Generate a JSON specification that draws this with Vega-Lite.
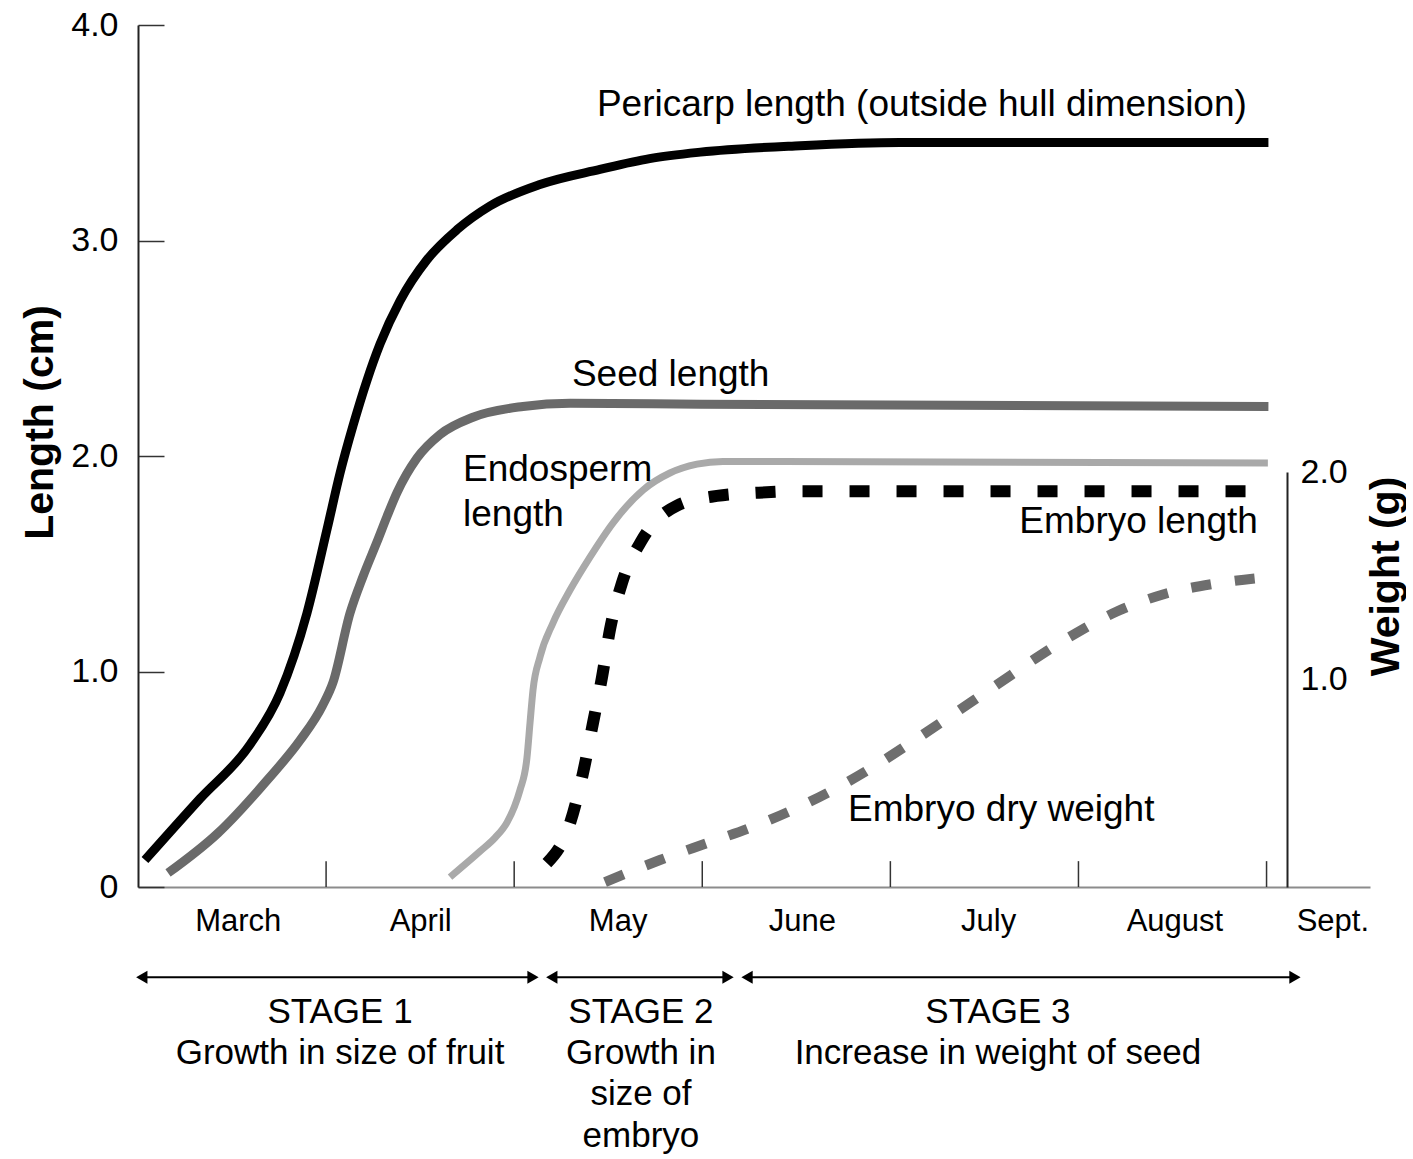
{
  "$schema": "https://vega.github.io/schema/vega-lite/v6.json",
  "padding": {"left": 19, "top": 8, "right": 0, "bottom": 0},
  "bounds": "flush",
  "spacing": 78,
  "config": {"font": "Liberation Sans", "view": {"stroke": null}},
  "datasets": {
    "curves": [
      {"s": "Pericarp", "x": 0.037, "y": 0.125},
      {"s": "Pericarp", "x": 0.33, "y": 0.41},
      {"s": "Pericarp", "x": 0.595, "y": 0.66},
      {"s": "Pericarp", "x": 0.755, "y": 0.9},
      {"s": "Pericarp", "x": 0.898, "y": 1.27},
      {"s": "Pericarp", "x": 1.005, "y": 1.66},
      {"s": "Pericarp", "x": 1.074, "y": 1.92},
      {"s": "Pericarp", "x": 1.143, "y": 2.14},
      {"s": "Pericarp", "x": 1.217, "y": 2.35},
      {"s": "Pericarp", "x": 1.287, "y": 2.52},
      {"s": "Pericarp", "x": 1.393, "y": 2.72},
      {"s": "Pericarp", "x": 1.536, "y": 2.91},
      {"s": "Pericarp", "x": 1.696, "y": 3.05},
      {"s": "Pericarp", "x": 1.871, "y": 3.16},
      {"s": "Pericarp", "x": 2.137, "y": 3.26},
      {"s": "Pericarp", "x": 2.456, "y": 3.33},
      {"s": "Pericarp", "x": 2.72, "y": 3.38},
      {"s": "Pericarp", "x": 2.99, "y": 3.41},
      {"s": "Pericarp", "x": 3.52, "y": 3.44},
      {"s": "Pericarp", "x": 4.05, "y": 3.455},
      {"s": "Pericarp", "x": 6.01, "y": 3.455},
      {"s": "Seed", "x": 0.16, "y": 0.065},
      {"s": "Seed", "x": 0.425, "y": 0.25},
      {"s": "Seed", "x": 0.691, "y": 0.5},
      {"s": "Seed", "x": 0.861, "y": 0.68},
      {"s": "Seed", "x": 0.98, "y": 0.84},
      {"s": "Seed", "x": 1.037, "y": 0.95},
      {"s": "Seed", "x": 1.127, "y": 1.27},
      {"s": "Seed", "x": 1.196, "y": 1.44},
      {"s": "Seed", "x": 1.27, "y": 1.6},
      {"s": "Seed", "x": 1.324, "y": 1.72},
      {"s": "Seed", "x": 1.377, "y": 1.83},
      {"s": "Seed", "x": 1.483, "y": 1.99},
      {"s": "Seed", "x": 1.606, "y": 2.1},
      {"s": "Seed", "x": 1.781, "y": 2.18},
      {"s": "Seed", "x": 2.047, "y": 2.23},
      {"s": "Seed", "x": 2.297, "y": 2.245},
      {"s": "Seed", "x": 2.988, "y": 2.24},
      {"s": "Seed", "x": 6.01, "y": 2.23},
      {"s": "Endosperm", "x": 1.659, "y": 0.046},
      {"s": "Endosperm", "x": 1.818, "y": 0.165},
      {"s": "Endosperm", "x": 1.9, "y": 0.23},
      {"s": "Endosperm", "x": 1.962, "y": 0.3},
      {"s": "Endosperm", "x": 2.0, "y": 0.37},
      {"s": "Endosperm", "x": 2.031, "y": 0.45},
      {"s": "Endosperm", "x": 2.068, "y": 0.6},
      {"s": "Endosperm", "x": 2.084, "y": 0.76},
      {"s": "Endosperm", "x": 2.1, "y": 0.914},
      {"s": "Endosperm", "x": 2.137, "y": 1.067},
      {"s": "Endosperm", "x": 2.206, "y": 1.225},
      {"s": "Endosperm", "x": 2.297, "y": 1.378},
      {"s": "Endosperm", "x": 2.403, "y": 1.531},
      {"s": "Endosperm", "x": 2.525, "y": 1.689},
      {"s": "Endosperm", "x": 2.685, "y": 1.842},
      {"s": "Endosperm", "x": 2.828, "y": 1.921},
      {"s": "Endosperm", "x": 2.972, "y": 1.962},
      {"s": "Endosperm", "x": 3.11, "y": 1.975},
      {"s": "Endosperm", "x": 6.007, "y": 1.967},
      {"s": "EmbryoLen", "x": 2.174, "y": 0.111},
      {"s": "EmbryoLen", "x": 2.297, "y": 0.297},
      {"s": "EmbryoLen", "x": 2.366, "y": 0.529},
      {"s": "EmbryoLen", "x": 2.419, "y": 0.761},
      {"s": "EmbryoLen", "x": 2.467, "y": 0.974},
      {"s": "EmbryoLen", "x": 2.509, "y": 1.193},
      {"s": "EmbryoLen", "x": 2.573, "y": 1.411},
      {"s": "EmbryoLen", "x": 2.679, "y": 1.61},
      {"s": "EmbryoLen", "x": 2.866, "y": 1.77},
      {"s": "EmbryoLen", "x": 3.078, "y": 1.815},
      {"s": "EmbryoLen", "x": 3.3, "y": 1.83},
      {"s": "EmbryoLen", "x": 3.519, "y": 1.836},
      {"s": "EmbryoLen", "x": 5.976, "y": 1.836},
      {"s": "EmbryoWt", "x": 2.483, "y": 0.024},
      {"s": "EmbryoWt", "x": 2.775, "y": 0.13},
      {"s": "EmbryoWt", "x": 3.004, "y": 0.205},
      {"s": "EmbryoWt", "x": 3.254, "y": 0.285},
      {"s": "EmbryoWt", "x": 3.477, "y": 0.37},
      {"s": "EmbryoWt", "x": 3.7, "y": 0.47},
      {"s": "EmbryoWt", "x": 3.929, "y": 0.59},
      {"s": "EmbryoWt", "x": 4.141, "y": 0.715},
      {"s": "EmbryoWt", "x": 4.354, "y": 0.845},
      {"s": "EmbryoWt", "x": 4.567, "y": 0.975},
      {"s": "EmbryoWt", "x": 4.769, "y": 1.1},
      {"s": "EmbryoWt", "x": 4.981, "y": 1.22},
      {"s": "EmbryoWt", "x": 5.21, "y": 1.33},
      {"s": "EmbryoWt", "x": 5.449, "y": 1.41},
      {"s": "EmbryoWt", "x": 5.71, "y": 1.46},
      {"s": "EmbryoWt", "x": 6.018, "y": 1.494}
    ],
    "monthEnds": [{"x": 1}, {"x": 2}, {"x": 3}, {"x": 4}, {"x": 5}, {"x": 6}],
    "labelsL": [
      {"t": "Pericarp length (outside hull dimension)", "x": 2.44, "y": 3.63},
      {"t": "Seed length", "x": 2.307, "y": 2.376},
      {"t": "Endosperm", "x": 1.728, "y": 1.935},
      {"t": "length", "x": 1.728, "y": 1.726},
      {"t": "Embryo dry weight", "x": 3.775, "y": 0.357}
    ],
    "labelsR": [
      {"t": "Embryo length", "x": 5.954, "y": 1.694}
    ],
    "stages": [
      {"stage": "1", "start": 0.02, "end": 2.1},
      {"stage": "2", "start": 2.2, "end": 3.137},
      {"stage": "3", "start": 3.238, "end": 6.151}
    ],
    "stageText": [
      {"x": 1.074, "line": 1, "t": "STAGE 1"},
      {"x": 1.074, "line": 2, "t": "Growth in size of fruit"},
      {"x": 2.674, "line": 1, "t": "STAGE 2"},
      {"x": 2.674, "line": 2, "t": "Growth in"},
      {"x": 2.674, "line": 3, "t": "size of"},
      {"x": 2.674, "line": 4, "t": "embryo"},
      {"x": 4.572, "line": 1, "t": "STAGE 3"},
      {"x": 4.572, "line": 2, "t": "Increase in weight of seed"}
    ]
  },
  "vconcat": [
    {
      "width": 1232,
      "height": 862,
      "layer": [
        {
          "layer": [
            {
              "data": {"name": "curves"},
              "transform": [{"filter": "datum.s === 'Pericarp'"}],
              "mark": {"type": "line", "color": "#000000", "strokeWidth": 9, "interpolate": "monotone"},
              "encoding": {
                "x": {
                  "field": "x", "type": "quantitative",
                  "scale": {"domain": [0, 6.55], "nice": false, "zero": false},
                  "axis": {
                    "title": null,
                    "values": [0.53, 1.5, 2.55, 3.53, 4.52, 5.51, 6.35],
                    "labelExpr": "datum.value < 1 ? 'March' : datum.value < 2 ? 'April' : datum.value < 3 ? 'May' : datum.value < 4 ? 'June' : datum.value < 5 ? 'July' : datum.value < 6 ? 'August' : 'Sept.'",
                    "ticks": false, "grid": false, "labelFlush": false,
                    "domainColor": "#8c8c8c", "domainWidth": 2,
                    "labelFontSize": 31, "labelPadding": 19, "labelColor": "#000000"
                  }
                },
                "y": {
                  "field": "y", "type": "quantitative",
                  "scale": {"domain": [0, 4], "nice": false},
                  "axis": {
                    "title": "Length (cm)",
                    "values": [0, 1, 2, 3, 4],
                    "labelExpr": "datum.value === 0 ? '0' : format(datum.value, '.1f')",
                    "grid": false, "labelFlush": false,
                    "tickSize": -26, "tickColor": "#333333", "tickWidth": 1.5,
                    "domainColor": "#222222", "domainWidth": 2,
                    "labelFontSize": 34, "labelPadding": 46, "labelColor": "#000000",
                    "titleFontSize": 41, "titleFontWeight": "bold", "titleColor": "#000000",
                    "titleX": -86, "titleY": 397, "titleAngle": -90, "titleAlign": "center", "titleBaseline": "alphabetic"
                  }
                }
              }
            },
            {
              "data": {"name": "curves"},
              "transform": [{"filter": "datum.s === 'Seed'"}],
              "mark": {"type": "line", "color": "#6a6a6a", "strokeWidth": 9, "interpolate": "monotone"},
              "encoding": {
                "x": {"field": "x", "type": "quantitative"},
                "y": {"field": "y", "type": "quantitative"}
              }
            },
            {
              "data": {"name": "curves"},
              "transform": [{"filter": "datum.s === 'Endosperm'"}],
              "mark": {"type": "line", "color": "#a9a9a9", "strokeWidth": 7, "interpolate": "monotone"},
              "encoding": {
                "x": {"field": "x", "type": "quantitative"},
                "y": {"field": "y", "type": "quantitative"}
              }
            },
            {
              "data": {"name": "curves"},
              "transform": [{"filter": "datum.s === 'EmbryoLen'"}],
              "mark": {"type": "line", "color": "#000000", "strokeWidth": 12, "strokeDash": [20, 27], "interpolate": "monotone"},
              "encoding": {
                "x": {"field": "x", "type": "quantitative"},
                "y": {"field": "y", "type": "quantitative"}
              }
            },
            {
              "data": {"name": "monthEnds"},
              "mark": {"type": "rule", "color": "#333333", "strokeWidth": 1.5},
              "encoding": {
                "x": {"field": "x", "type": "quantitative"},
                "y": {"datum": 0, "type": "quantitative"},
                "y2": {"datum": 0.12}
              }
            },
            {
              "data": {"name": "labelsL"},
              "mark": {"type": "text", "align": "left", "baseline": "middle", "fontSize": 37, "color": "#000000"},
              "encoding": {
                "x": {"field": "x", "type": "quantitative"},
                "y": {"field": "y", "type": "quantitative"},
                "text": {"field": "t"}
              }
            },
            {
              "data": {"name": "labelsR"},
              "mark": {"type": "text", "align": "right", "baseline": "middle", "fontSize": 37, "color": "#000000"},
              "encoding": {
                "x": {"field": "x", "type": "quantitative"},
                "y": {"field": "y", "type": "quantitative"},
                "text": {"field": "t"}
              }
            }
          ]
        },
        {
          "data": {"name": "curves"},
          "transform": [{"filter": "datum.s === 'EmbryoWt'"}],
          "mark": {"type": "line", "color": "#6e6e6e", "strokeWidth": 10, "strokeDash": [20, 24], "interpolate": "monotone"},
          "encoding": {
            "x": {"field": "x", "type": "quantitative"},
            "y": {
              "field": "y", "type": "quantitative",
              "scale": {"domain": [0, 2], "range": [862, 447], "nice": false},
              "axis": {
                "orient": "right", "offset": -83,
                "title": "Weight (g)",
                "values": [1, 2], "format": ".1f",
                "ticks": false, "grid": false, "labelFlush": false,
                "domainColor": "#222222", "domainWidth": 2,
                "labelFontSize": 34, "labelPadding": 13, "labelColor": "#000000",
                "titleFontSize": 41, "titleFontWeight": "bold", "titleColor": "#000000",
                "titleX": 111, "titleY": 551, "titleAngle": -90, "titleAlign": "center", "titleBaseline": "alphabetic"
              }
            }
          }
        }
      ],
      "resolve": {"scale": {"y": "independent"}, "axis": {"y": "independent"}}
    },
    {
      "width": 1232,
      "height": 189,
      "layer": [
        {
          "data": {"name": "stages"},
          "mark": {"type": "rule", "color": "#000000", "strokeWidth": 2},
          "encoding": {
            "x": {"field": "start", "type": "quantitative", "scale": {"domain": [0, 6.55], "nice": false, "zero": false}, "axis": null},
            "x2": {"field": "end"},
            "y": {"datum": 0.15, "type": "quantitative", "scale": {"domain": [-0.15, 4.45], "reverse": true, "nice": false, "zero": false}, "axis": null}
          }
        },
        {
          "data": {"name": "stages"},
          "mark": {"type": "point", "shape": "triangle-left", "filled": true, "color": "#000000", "size": 170, "opacity": 1},
          "encoding": {
            "x": {"field": "start", "type": "quantitative"},
            "y": {"datum": 0.15, "type": "quantitative"}
          }
        },
        {
          "data": {"name": "stages"},
          "mark": {"type": "point", "shape": "triangle-right", "filled": true, "color": "#000000", "size": 170, "opacity": 1},
          "encoding": {
            "x": {"field": "end", "type": "quantitative"},
            "y": {"datum": 0.15, "type": "quantitative"}
          }
        },
        {
          "data": {"name": "stageText"},
          "mark": {"type": "text", "align": "center", "baseline": "middle", "fontSize": 35, "color": "#000000"},
          "encoding": {
            "x": {"field": "x", "type": "quantitative"},
            "y": {"field": "line", "type": "quantitative"},
            "text": {"field": "t"}
          }
        }
      ]
    }
  ]
}
